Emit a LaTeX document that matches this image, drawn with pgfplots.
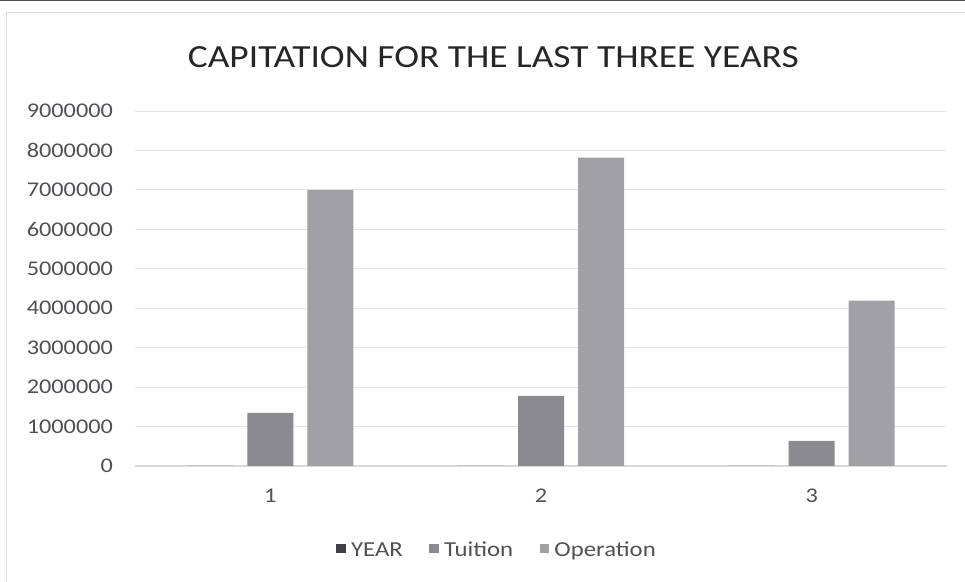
\documentclass[border=0pt]{standalone}
\usepackage{pgfplots}
\pgfplotsset{compat=1.18}
\usepackage{fontspec}
\setmainfont{Carlito}[FakeStretch=1.16]
\definecolor{yearc}{HTML}{404048}
\definecolor{tuic}{HTML}{8A8A90}
\definecolor{opc}{HTML}{A0A0A6}
\definecolor{txt}{HTML}{505058}
\begin{document}
\begin{tikzpicture}
\path[use as bounding box] (0,0) rectangle (723.75pt,436.5pt);
\fill[white] (0,0) rectangle (723.75pt,436.5pt);
\draw[black!70, line width=1.2pt] (0,436pt) -- (723.75pt,436pt);
\draw[black!12, line width=0.6pt] (5pt,0) -- (5pt,427pt) -- (723.75pt,427pt);
\node[text=black!85, font=\fontsize{24.2}{26}\selectfont] at (370pt,393.5pt) {CAPITATION FOR THE LAST THREE YEARS};
\begin{axis}[
  at={(101.25pt,87pt)}, anchor=south west,
  scale only axis, width=609pt, height=266.25pt,
  ybar, bar width=34.5pt,
  xmin=0.5, xmax=3.5, ymin=0, ymax=9000000,
  xtick={1,2,3}, xticklabels={1,2,3},
  ytick={0,1000000,...,9000000},
  scaled y ticks=false,
  yticklabel={\pgfmathprintnumber[fixed,1000 sep={}]{\tick}},
  /pgf/number format/assume math mode=true,
  tick label style={font=\fontsize{15.7}{17}\selectfont, text=txt},
  ymajorgrids, grid style={black!10, line width=0.6pt},
  axis line style={draw=none},
  x axis line style={draw=black!15, line width=0.8pt},
  axis x line*=bottom, axis y line*=left,
  major tick length=0pt,
  xticklabel style={yshift=-14pt},
  yticklabel style={xshift=-13pt},
  legend style={at={(0.448,-0.24)}, anchor=center, draw=none, legend columns=-1,
    font=\fontsize{16}{17}\selectfont, text=txt,
    nodes={text height=11pt, text depth=3pt, inner xsep=4pt},
    /tikz/every even column/.append style={column sep=16pt}},
  legend image code/.code={\fill[#1] (0pt,-1.5pt) rectangle (7pt,5.5pt);},
]
\addplot[fill=yearc, draw=none, bar shift=-45pt] coordinates {(1,2016) (2,2017) (3,2018)};
\addplot[fill=tuic, draw=none, bar shift=0pt] coordinates {(1,1350000) (2,1780000) (3,640000)};
\addplot[fill=opc, draw=none, bar shift=45pt] coordinates {(1,7000000) (2,7820000) (3,4190000)};
\legend{YEAR,Tuition,Operation}
\end{axis}
\end{tikzpicture}
\end{document}
